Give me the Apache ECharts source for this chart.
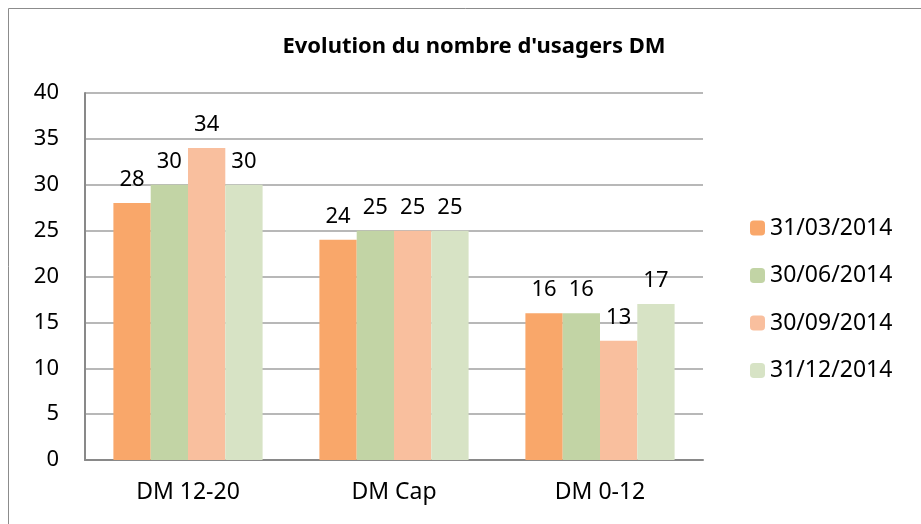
<!DOCTYPE html>
<html>
<head>
<meta charset="utf-8">
<script src="https://cdn.jsdelivr.net/npm/echarts@6/dist/echarts.min.js"></script>
<style>
  html, body { margin: 0; padding: 0; background: #fff; }
  #chart { width: 921px; height: 524px; }
</style>
</head>
<body>
<div id="chart"></div>
<script>
var categories = ['DM 12-20', 'DM Cap', 'DM 0-12'];
var seriesNames = ['31/03/2014', '30/06/2014', '30/09/2014', '31/12/2014'];
var q1 = [28, 24, 16];
var q2 = [30, 25, 16];
var q3 = [34, 25, 13];
var q4 = [30, 25, 17];
var colors = ['#F9A76A', '#C2D4A5', '#F9BF9E', '#D7E3C5'];

var font = 'Noto Sans';
var chart = echarts.init(document.getElementById('chart'));

function bar(name, data, i) {
  return {
    name: name,
    type: 'bar',
    data: data,
    barWidth: 37.3,
    barGap: '0%',
    itemStyle: { color: colors[i] },
    label: {
      show: true,
      position: 'top',
      distance: 12,
      color: '#000',
      fontFamily: font,
      fontSize: 22
    }
  };
}

chart.setOption({
  animation: false,
  title: {
    text: "Evolution du nombre d'usagers DM",
    left: 469,
    textAlign: 'center',
    top: 31,
    textStyle: { fontFamily: font, fontSize: 22, fontWeight: 'bold', color: '#000' }
  },
  graphic: [{
    type: 'rect',
    shape: { x: 8.5, y: 8.5, width: 1000, height: 1000 },
    style: { fill: null, stroke: '#8c8c8c', lineWidth: 1 }
  }],
  legend: {
    orient: 'vertical',
    left: 745,
    top: 211,
    itemWidth: 15,
    itemHeight: 15,
    itemGap: 23.5,
    textStyle: { fontFamily: font, fontSize: 23, lineHeight: 24, color: '#000' },
    data: seriesNames
  },
  grid: { left: 85, right: 218, top: 93, bottom: 64 },
  xAxis: {
    type: 'category',
    data: categories,
    axisLine: { lineStyle: { color: '#898989', width: 2 } },
    axisTick: { show: false },
    axisLabel: { fontFamily: font, fontSize: 23, color: '#000', margin: 21 }
  },
  yAxis: {
    type: 'value',
    min: 0,
    max: 40,
    interval: 5,
    axisLine: { show: true, lineStyle: { color: '#898989', width: 2 } },
    axisTick: { show: false },
    splitLine: { lineStyle: { color: '#a0a0a0', width: 1.5 } },
    axisLabel: { fontFamily: font, fontSize: 22, color: '#000', margin: 26 }
  },
  series: [
    bar(seriesNames[0], q1, 0),
    bar(seriesNames[1], q2, 1),
    bar(seriesNames[2], q3, 2),
    bar(seriesNames[3], q4, 3)
  ]
});
</script>
</body>
</html>
